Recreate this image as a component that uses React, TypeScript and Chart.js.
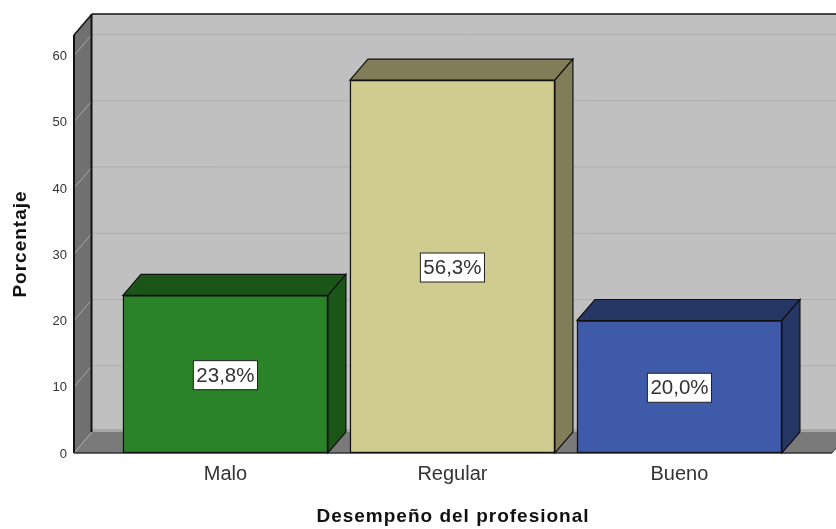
import React, { useEffect, useRef } from "react";
import { Chart, registerables } from "chart.js";

Chart.register(...registerables);

const categories = ["Malo", "Regular", "Bueno"];
const percentages = [23.8, 56.3, 20.0];
const frontColors = ["#2a8229", "#d0cb8f", "#3f5aa8"];
const sideColors = ["#1b5518", "#807d58", "#263765"];
const yMax = 63.1;
const yStep = 10;
const xTitle = "Desempeño del profesional";
const yTitle = "Porcentaje";

const DX = 18;
const DY = 21;
const FONT = "'Liberation Sans', Arial, sans-serif";

function poly(ctx: CanvasRenderingContext2D, pts: number[][], fill?: string, stroke?: string, lw = 1) {
  ctx.beginPath();
  pts.forEach((p, i) => (i ? ctx.lineTo(p[0], p[1]) : ctx.moveTo(p[0], p[1])));
  ctx.closePath();
  if (fill) {
    ctx.fillStyle = fill;
    ctx.fill();
  }
  if (stroke) {
    ctx.strokeStyle = stroke;
    ctx.lineWidth = lw;
    ctx.stroke();
  }
}

function line(ctx: CanvasRenderingContext2D, x1: number, y1: number, x2: number, y2: number, c: string, lw: number) {
  ctx.beginPath();
  ctx.moveTo(x1, y1);
  ctx.lineTo(x2, y2);
  ctx.strokeStyle = c;
  ctx.lineWidth = lw;
  ctx.stroke();
}

// Axis titles in the reference are slightly letter-spaced.
function spacedTitle(scale: any) {
  if (scale.__spaced) return;
  scale.__spaced = true;
  const original = scale.drawTitle;
  scale.drawTitle = function () {
    const ctx = this.ctx;
    ctx.letterSpacing = "1px";
    original.call(this);
    ctx.letterSpacing = "0px";
  };
}

const box3d = {
  id: "box3d",
  beforeDatasetsDraw(chart: any) {
    const { ctx, chartArea: a, scales } = chart;
    const { left: l, right: r, top: t, bottom: b } = a;
    ctx.save();
    // back wall
    poly(ctx, [[l + DX, t - DY], [r + DX, t - DY], [r + DX, b - DY], [l + DX, b - DY]], "#c0c0c0");
    // band at the base of the wall
    ctx.fillStyle = "#a8a8a8";
    ctx.fillRect(l + DX, b - DY - 3, r - l, 3);
    // left wall
    poly(ctx, [[l, t], [l + DX, t - DY], [l + DX, b - DY], [l, b]], "#707070");
    // floor
    poly(ctx, [[l, b], [r, b], [r + DX, b - DY], [l + DX, b - DY]], "#7a7a7a");
    // grid
    for (const tick of scales.y.ticks) {
      const y = scales.y.getPixelForValue(tick.value);
      if (tick.value > 0) line(ctx, l + DX, y - DY, r + DX, y - DY, "#aeaeae", 1);
      line(ctx, l, y, l + DX, y - DY, "#a9a9a9", 1);
    }
    // outlines
    line(ctx, l + DX, t - DY, r + DX, t - DY, "#111111", 1.5);
    line(ctx, l, t, l + DX, t - DY, "#111111", 1.5);
    line(ctx, l + DX - 0.5, t - DY, l + DX - 0.5, b - DY, "#111111", 2);
    line(ctx, l, t, l, b, "#111111", 2);
    line(ctx, l, b, r, b, "#333333", 1.5);
    line(ctx, r, b, r + DX, b - DY, "#333333", 1);
    // bar depth faces
    const bars = chart.getDatasetMeta(0).data;
    bars.forEach((bar: any, i: number) => {
      const w = bar.width / 2;
      const x1 = bar.x - w;
      const x2 = bar.x + w;
      const y = bar.y;
      const base = bar.base;
      poly(ctx, [[x1, y], [x2, y], [x2 + DX, y - DY], [x1 + DX, y - DY]], sideColors[i], "#111111", 1.2);
      poly(ctx, [[x2, y], [x2 + DX, y - DY], [x2 + DX, base - DY], [x2, base]], sideColors[i], "#111111", 1.2);
    });
    ctx.restore();
  },
  afterDatasetsDraw(chart: any) {
    const { ctx } = chart;
    const bars = chart.getDatasetMeta(0).data;
    ctx.save();
    ctx.font = `20.5px ${FONT}`;
    ctx.textAlign = "center";
    ctx.textBaseline = "middle";
    bars.forEach((bar: any, i: number) => {
      const label = percentages[i].toFixed(1).replace(".", ",") + "%";
      const cy = (bar.y + bar.base) / 2 + 1;
      const bw = ctx.measureText(label).width + 6;
      const bh = 29;
      ctx.fillStyle = "#ffffff";
      ctx.fillRect(bar.x - bw / 2, cy - bh / 2, bw, bh);
      ctx.strokeStyle = "#222222";
      ctx.lineWidth = 1;
      ctx.strokeRect(bar.x - bw / 2, cy - bh / 2, bw, bh);
      ctx.fillStyle = "#333333";
      ctx.fillText(label, bar.x, cy + 1);
    });
    ctx.restore();
  },
};

export default function App() {
  const ref = useRef<HTMLCanvasElement>(null);
  useEffect(() => {
    document.body.style.margin = "0";
    const chart = new Chart(ref.current!, {
      type: "bar",
      data: {
        datasets: [
          {
            data: percentages.map((v, i) => ({ x: i, y: v })),
            backgroundColor: frontColors,
            borderColor: "#111111",
            borderWidth: 1.5,
            borderSkipped: false,
            barThickness: 205,
          },
        ],
      },
      options: {
        responsive: false,
        animation: false,
        layout: { padding: { top: 35, right: 4, left: 0, bottom: 0 } },
        plugins: { legend: { display: false }, tooltip: { enabled: false } },
        scales: {
          x: {
            type: "linear",
            min: -0.667,
            max: 2.672,
            offset: false,
            grid: { display: false, drawTicks: false, offset: false },
            border: { display: false },
            afterBuildTicks: (s: any) => {
              s.ticks = categories.map((_, i) => ({ value: i }));
            },
            afterFit: (s: any) => {
              s.height = 76;
              spacedTitle(s);
            },
            ticks: {
              autoSkip: false,
              maxRotation: 0,
              padding: 9,
              color: "#333333",
              font: { family: FONT, size: 20 },
              callback: (v: any) => categories[v],
            },
            title: {
              display: true,
              text: xTitle,
              color: "#111111",
              font: { family: FONT, size: 19, weight: "bold" },
              padding: { top: 0, bottom: 1 },
            },
          },
          y: {
            min: 0,
            max: yMax,
            grid: { display: false, drawTicks: false },
            border: { display: false },
            afterFit: (s: any) => {
              s.width = 74;
              spacedTitle(s);
            },
            ticks: {
              stepSize: yStep,
              includeBounds: false,
              padding: 7,
              labelOffset: 1,
              color: "#333333",
              font: { family: FONT, size: 13 },
            },
            title: {
              display: true,
              text: yTitle,
              color: "#111111",
              font: { family: FONT, size: 19, weight: "bold" },
              padding: { top: 9, bottom: 0 },
            },
          },
        },
      },
      plugins: [box3d],
    } as any);
    return () => chart.destroy();
  }, []);
  return <canvas ref={ref} width={836} height={529} style={{ display: "block" }} />;
}
